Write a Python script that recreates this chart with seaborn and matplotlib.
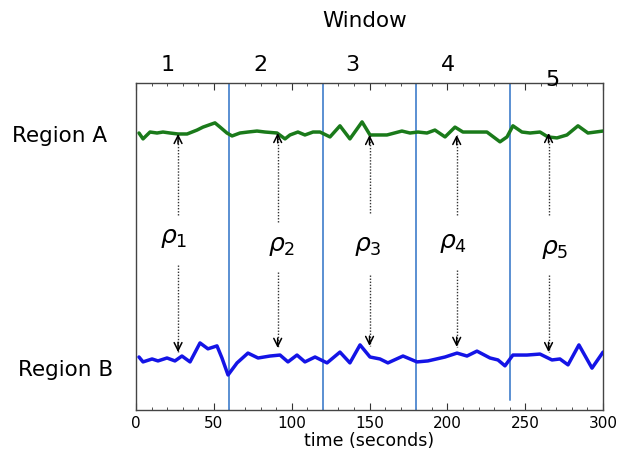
import numpy as np
import pandas as pd
import matplotlib
matplotlib.use("Agg")
import matplotlib.pyplot as plt
import seaborn as sns

# ---- data ----
time_a = [1.9, 4.5, 9.0, 13.5, 17.3, 21.8, 27.0, 32.8, 39.2, 43.0, 50.7, 54.0, 58.4, 61.7,
          66.8, 71.9, 77.7, 82.9, 90.6, 95.7, 98.9, 104.0, 108.5, 113.7, 118.2, 124.6,
          131.0, 137.4, 145.2, 150.3, 156.7, 161.2, 170.8, 176.0, 181.1, 186.9, 192.0,
          198.5, 204.9, 210.0, 219.0, 225.4, 233.8, 238.3, 242.1, 247.9, 253.1, 259.5,
          264.6, 270.4, 276.8, 283.9, 290.3, 300.0]
region_a = [8.47, 8.29, 8.50, 8.47, 8.50, 8.47, 8.44, 8.44, 8.56, 8.65, 8.78, 8.65, 8.47, 8.38,
            8.47, 8.50, 8.53, 8.50, 8.47, 8.29, 8.41, 8.50, 8.41, 8.50, 8.50, 8.35,
            8.69, 8.29, 8.81, 8.41, 8.41, 8.41, 8.53, 8.47, 8.50, 8.47, 8.56,
            8.35, 8.65, 8.50, 8.50, 8.50, 8.20, 8.35, 8.69, 8.50, 8.47, 8.50,
            8.35, 8.32, 8.41, 8.69, 8.47, 8.53]

time_b = [1.9, 4.5, 10.3, 14.1, 19.9, 25.0, 29.5, 34.7, 41.1, 46.2, 52.0, 55.2, 59.1, 64.9,
          71.9, 78.4, 86.1, 92.5, 97.6, 103.4, 108.5, 115.0, 122.7, 131.0, 137.4, 143.9,
          150.3, 156.7, 161.8, 171.5, 180.5, 187.5, 198.5, 206.2, 212.6, 219.0, 227.4,
          232.5, 237.0, 242.1, 251.1, 259.5, 267.2, 272.3, 277.5, 284.5, 292.9, 300.0]
region_b = [1.62, 1.47, 1.56, 1.50, 1.59, 1.50, 1.65, 1.47, 2.05, 1.87, 1.96, 1.59, 1.07, 1.44,
            1.74, 1.59, 1.65, 1.68, 1.47, 1.68, 1.47, 1.62, 1.44, 1.77, 1.44, 1.99,
            1.62, 1.56, 1.44, 1.65, 1.47, 1.50, 1.62, 1.74, 1.65, 1.80, 1.59,
            1.53, 1.35, 1.68, 1.68, 1.71, 1.53, 1.56, 1.38, 1.99, 1.28, 1.77]

window_bounds = [60, 120, 180, 240]
window_labels = ["1", "2", "3", "4", "5"]
window_label_x = [20.5, 79.6, 138.7, 200.4, 267.8]

rho_labels = [r"$\rho_1$", r"$\rho_2$", r"$\rho_3$", r"$\rho_4$", r"$\rho_5$"]
rho_x = [24.0, 93.7, 149.0, 203.7, 269.0]
rho_y = [5.26, 5.02, 5.00, 5.11, 4.93]
arrow_x = [27.0, 91.0, 150.0, 206.0, 265.0]
arrow_top_tip = [8.44, 8.47, 8.41, 8.41, 8.47]
arrow_top_tail = [5.96, 5.75, 6.02, 5.96, 5.96]
arrow_bot_tail = [4.43, 4.22, 4.13, 4.28, 4.13]
arrow_bot_tip = [1.77, 1.90, 1.96, 1.93, 1.77]

xticks = [0, 50, 100, 150, 200, 250, 300]

# ---- figure ----
sns.set_style("white")
plt.rcParams['font.family'] = ['DejaVu Sans']
plt.rcParams['text.color'] = 'black'
plt.rcParams['xtick.color'] = 'black'
plt.rcParams['axes.labelcolor'] = 'black'
fig = plt.figure(figsize=(6.18, 4.49), dpi=100)
ax = fig.add_axes([0.2201, 0.0869, 0.7557, 0.7283])

df_a = pd.DataFrame({"t": time_a, "v": region_a})
df_b = pd.DataFrame({"t": time_b, "v": region_b})
sns.lineplot(data=df_a, x="t", y="v", ax=ax, color="#1a7a1a", lw=2.5, zorder=3)
sns.lineplot(data=df_b, x="t", y="v", ax=ax, color="#1414e6", lw=2.5, zorder=3)

for i, b in enumerate(window_bounds):
    ymin = 0.03 if i == len(window_bounds) - 1 else 0.0
    ax.axvline(b, ymin=ymin, ymax=1, color="#5a8fd2", lw=1.4, zorder=2)

# dotted connectors
ax.vlines(arrow_x, arrow_top_tail, arrow_top_tip, colors="#333333", lw=1.0,
          linestyles=(0, (1, 1.2)), zorder=4)
ax.vlines(arrow_x, arrow_bot_tail, arrow_bot_tip, colors="#333333", lw=1.0,
          linestyles=(0, (1, 1.2)), zorder=4)
for i in range(5):
    ax.annotate("", xy=(arrow_x[i], arrow_top_tip[i]), xytext=(arrow_x[i], arrow_top_tip[i] - 0.3),
                arrowprops=dict(arrowstyle="->", color="black", lw=1.1,
                                shrinkA=0, shrinkB=0, mutation_scale=14), zorder=4)
    ax.annotate("", xy=(arrow_x[i], arrow_bot_tip[i]), xytext=(arrow_x[i], arrow_bot_tip[i] + 0.3),
                arrowprops=dict(arrowstyle="->", color="black", lw=1.1,
                                shrinkA=0, shrinkB=0, mutation_scale=14), zorder=4)
    ax.text(rho_x[i], rho_y[i], rho_labels[i], fontsize=18, ha="center", va="center")

for lab, x in zip(window_labels, window_label_x):
    y = 10.1 if lab == "5" else 10.55
    ax.text(x, y, lab, fontsize=16, ha="center", va="center", clip_on=False)

ax.text(0.49, 1.19, "Window", transform=ax.transAxes, fontsize=15.5, ha="center", va="center")
fig.text(60 / 618, 1 - 136 / 449, "Region A", fontsize=15.5, ha="center", va="center")
fig.text(66 / 618, 1 - 370 / 449, "Region B", fontsize=15.5, ha="center", va="center")

ax.set_xlim(0, 300)
ax.set_ylim(0, 10)
ax.set_xticks(xticks)
ax.set_xticks(np.arange(0, 301, 10), minor=True)
ax.set_yticks([])
ax.tick_params(axis="x", which="both", direction="in", top=True, bottom=True,
               labelsize=11, pad=4, color="#333333")
ax.tick_params(axis="x", which="major", length=5, width=0.8)
ax.tick_params(axis="x", which="minor", length=2.5, width=0.6)
ax.set_xlabel("time (seconds)", fontsize=12.5, labelpad=1)
ax.set_ylabel("")
for s in ax.spines.values():
    s.set_visible(True)
    s.set_color("#444444")
    s.set_linewidth(1.0)

fig.savefig("out.png", dpi=100)
